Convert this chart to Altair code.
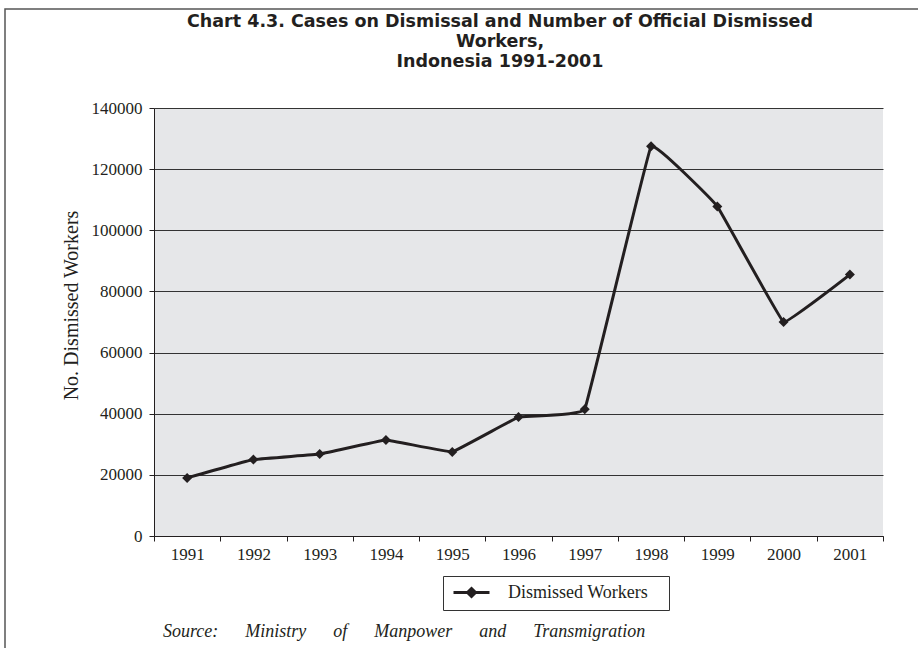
import altair as alt
import pandas as pd

# Officially recorded dismissed workers, Indonesia
years = ["1991", "1992", "1993", "1994", "1995", "1996",
         "1997", "1998", "1999", "2000", "2001"]
dismissed = [19000, 25000, 26800, 31400, 27500, 38900,
             41500, 127500, 107800, 70000, 85500]
series_name = "Dismissed Workers"
y_ticks = [0, 20000, 40000, 60000, 80000, 100000, 120000, 140000]

title_lines = [
    "Chart 4.3. Cases on Dismissal and Number of Official Dismissed",
    "Workers,",
    "Indonesia 1991-2001",
]
gap = "\u2003\u2005\u2005"
source_note = gap.join(["Source:", "Ministry", "of", "Manpower", "and", "Transmigration"])

df = pd.DataFrame({"year": years, "workers": dismissed, "series": series_name})

W, H = 729, 428
INK = "#231f20"
SERIF = "Liberation Serif"

x_enc = alt.X(
    "year:O",
    bandPosition=0.5,
    scale=alt.Scale(type="band", paddingInner=0, paddingOuter=0),
    axis=alt.Axis(
        title=None, labelAngle=0, tickBand="extent", tickSize=5,
        labelFont=SERIF, labelFontSize=17, labelColor=INK, labelPadding=5,
        domainColor=INK, tickColor=INK, grid=False,
    ),
)
y_enc = alt.Y(
    "workers:Q",
    scale=alt.Scale(domain=[0, 140000], nice=False, zero=True),
    axis=alt.Axis(
        title="No. Dismissed Workers", values=y_ticks, format="d",
        labelFont=SERIF, labelFontSize=17, labelColor=INK, labelPadding=7,
        tickSize=5, domainColor=INK, tickColor=INK,
        grid=True, gridColor="#333333", gridWidth=1,
        titleFont=SERIF, titleFontSize=20, titleFontWeight="normal",
        titleColor=INK, titleX=-83, titleY=197, titleAngle=270,
        titleAlign="center", titleBaseline="middle",
    ),
)

# line-with-diamond swatch for the legend
legend_symbol = "M-0.75,0H3.75M1.5,-0.5L2,0L1.5,0.5L1,0Z"
color_enc = alt.Color(
    "series:N",
    scale=alt.Scale(domain=[series_name], range=[INK]),
    legend=alt.Legend(
        title=None, orient="none", legendX=289, legendY=468,
        symbolType=legend_symbol, symbolSize=256, symbolStrokeWidth=3,
        symbolStrokeColor=INK, symbolFillColor=INK,
        labelFont=SERIF, labelFontSize=18, labelColor=INK,
        labelOffset=39, padding=7, strokeColor="#333333",
        fillColor="white", labelLimit=400,
        labelExpr="datum.label + '\u2800'",
    ),
)

line = alt.Chart(df).mark_line(
    strokeWidth=3, interpolate="cardinal", tension=0.85
).encode(x=x_enc, y=y_enc, color=color_enc)

points = alt.Chart(df).mark_point(
    shape="diamond", filled=True, size=100, opacity=1
).encode(x="year:O", y="workers:Q", color=alt.Color("series:N", legend=None))

# Page frame around the figure
frame = alt.Chart(pd.DataFrame({"k": [0]})).mark_rect(
    fill=None, stroke="#555555", strokeWidth=1.5, clip=False
).encode(
    x=alt.value(-149), x2=alt.value(W + 120),
    y=alt.value(-99), y2=alt.value(H + 140),
)

heading = alt.Chart(pd.DataFrame({"k": [0]})).mark_text(
    font="DejaVu Sans", fontSize=17.5, fontWeight="bold", color=INK,
    align="center", baseline="top", lineHeight=20,
).encode(x=alt.value(346), y=alt.value(-95), text=alt.value(title_lines))

source = alt.Chart(pd.DataFrame({"t": [source_note]})).mark_text(
    font=SERIF, fontSize=18, fontStyle="italic", color=INK,
    align="left", baseline="middle",
).encode(x=alt.value(9), y=alt.value(524), text="t:N")

chart = alt.layer(frame, line, points, heading, source).properties(
    width=W, height=H,
    padding={"left": 154, "top": 108, "right": 35, "bottom": 112},
    autosize=alt.AutoSizeParams(type="none"),
    background="white",
).configure_view(
    stroke=None, fill="#e6e7e9"
)

chart.save("out.html", embed_options={"renderer": "svg", "actions": False})
